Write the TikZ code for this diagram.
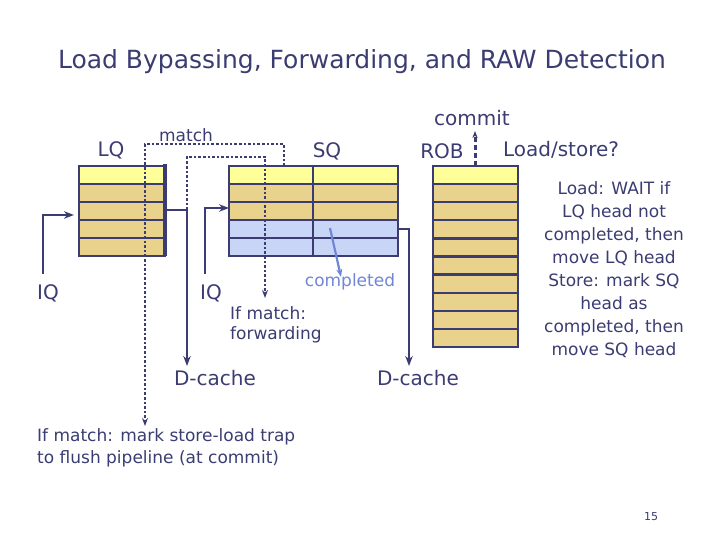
\documentclass[tikz,border=0pt]{standalone}
\usepackage{fontspec}
\setmainfont{DejaVu Sans}
\usetikzlibrary{arrows.meta}
\definecolor{ink}{HTML}{3A3C72}
\definecolor{tan}{HTML}{E9D38C}
\definecolor{pale}{HTML}{FFFF99}
\definecolor{sky}{HTML}{C9D5F7}
\definecolor{note}{HTML}{6F86D6}
\newcommand{\fs}[1]{\fontsize{#1}{#1}\selectfont}
\tikzset{
  row/.style={draw=ink,line width=2.4pt,fill=tan},
  wire/.style={ink,line width=2.4pt,-{Stealth[length=10pt]}},
  dots/.style={ink,line width=2.6pt,dotted},
  lbl/.style={text=ink,inner sep=0pt,font=\fs{17}},
  big/.style={lbl,font=\fs{20}}
}
\begin{document}
\begin{tikzpicture}[x=1pt,y=-1pt]
    \useasboundingbox (0,0) rectangle (720,540);
    \node[lbl,font=\fs{25}] (title) at (362,62) {Load Bypassing, Forwarding, and RAW Detection};

    % LQ
    \foreach \i in {0,...,4}
        \draw[row] (79,166+18*\i) rectangle (165,184+18*\i);
    \fill[pale] (80,167) rectangle (164,183);
    \draw[ink,line width=3.5pt] (165,164) -- (165,256);
    \coordinate (lqr) at (165,210);
    \node[big] (lq) at (111,150) {LQ};

    % SQ
    \foreach \i in {0,...,4}
        \draw[row] (229,166+18*\i) rectangle (398,184+18*\i);
    \fill[pale] (230,167) rectangle (397,183);
    \fill[sky] (230,221) rectangle (397,255);
    \draw[ink,line width=2.4pt] (229,220) -- (398,220) (229,238) -- (398,238)
        (229,166) rectangle (398,256) (313,166) -- (313,256);
    \coordinate (sql) at (229,208);
    \coordinate (sqr) at (398,229);
    \node[big] (sq) at (327,151) {SQ};

    % ROB
    \foreach \i in {0,...,9}
        \draw[row] (433,166+18.1*\i) rectangle (518,184.1+18.1*\i);
    \fill[pale] (434,167) rectangle (517,183);
    \node[big] (rob) at (442,151) {ROB};
    \node[big] (commit) at (472,118) {commit};
    \draw[ink,line width=3pt,dash pattern=on 5pt off 3pt,-{Stealth[length=7pt]}] (475,166) -- (475,131);
    \node[big] (ls) at (561,150) {Load/store?};

    % issue queues
    \node[big] (iqa) at (48,293) {IQ};
    \node[big] (iqb) at (211,293) {IQ};
    \draw[wire] (43,274) |- (74,215);
    \draw[wire] (205,274) |- (sql);

    % D-cache
    \node[big] (dca) at (215,378) {D-cache};
    \node[big] (dcb) at (418,378) {D-cache};
    \draw[wire] (lqr) -| (187,366);
    \draw[wire] (sqr) -| (409,366);

    % match lines
    \node[lbl] (match) at (186,135) {match};
    \draw[dots,-{Stealth[length=8pt]}] (284,166) |- (145,144) -- (145,426);
    \draw[dots,-{Stealth[length=8pt]}] (187,210) |- (265,157) -- (265,298);

    % completed
    \draw[note,line width=2.2pt,-{Stealth[length=8pt]}] (330,228) -- (341,277);
    \node[lbl,text=note] (done) at (350,282) {completed};
    \node[lbl,align=left,anchor=north west] (fwd) at (230,306) {If match:\\[3pt]forwarding};

    % notes
    \node[lbl,align=center] (rule) at (614,270) {Load: WAIT if\\[6pt]LQ head not\\[6pt]completed, then\\[6pt]move LQ head\\[6pt]Store: mark SQ\\[6pt]head as\\[6pt]completed, then\\[6pt]move SQ head};
    \node[lbl,align=left,anchor=north west] (trap) at (37,428) {If match: mark store-load trap\\[5pt]to flush pipeline (at commit)};
    \node[lbl,font=\fs{11}] (page) at (651,517) {15};
\end{tikzpicture}
\end{document}
